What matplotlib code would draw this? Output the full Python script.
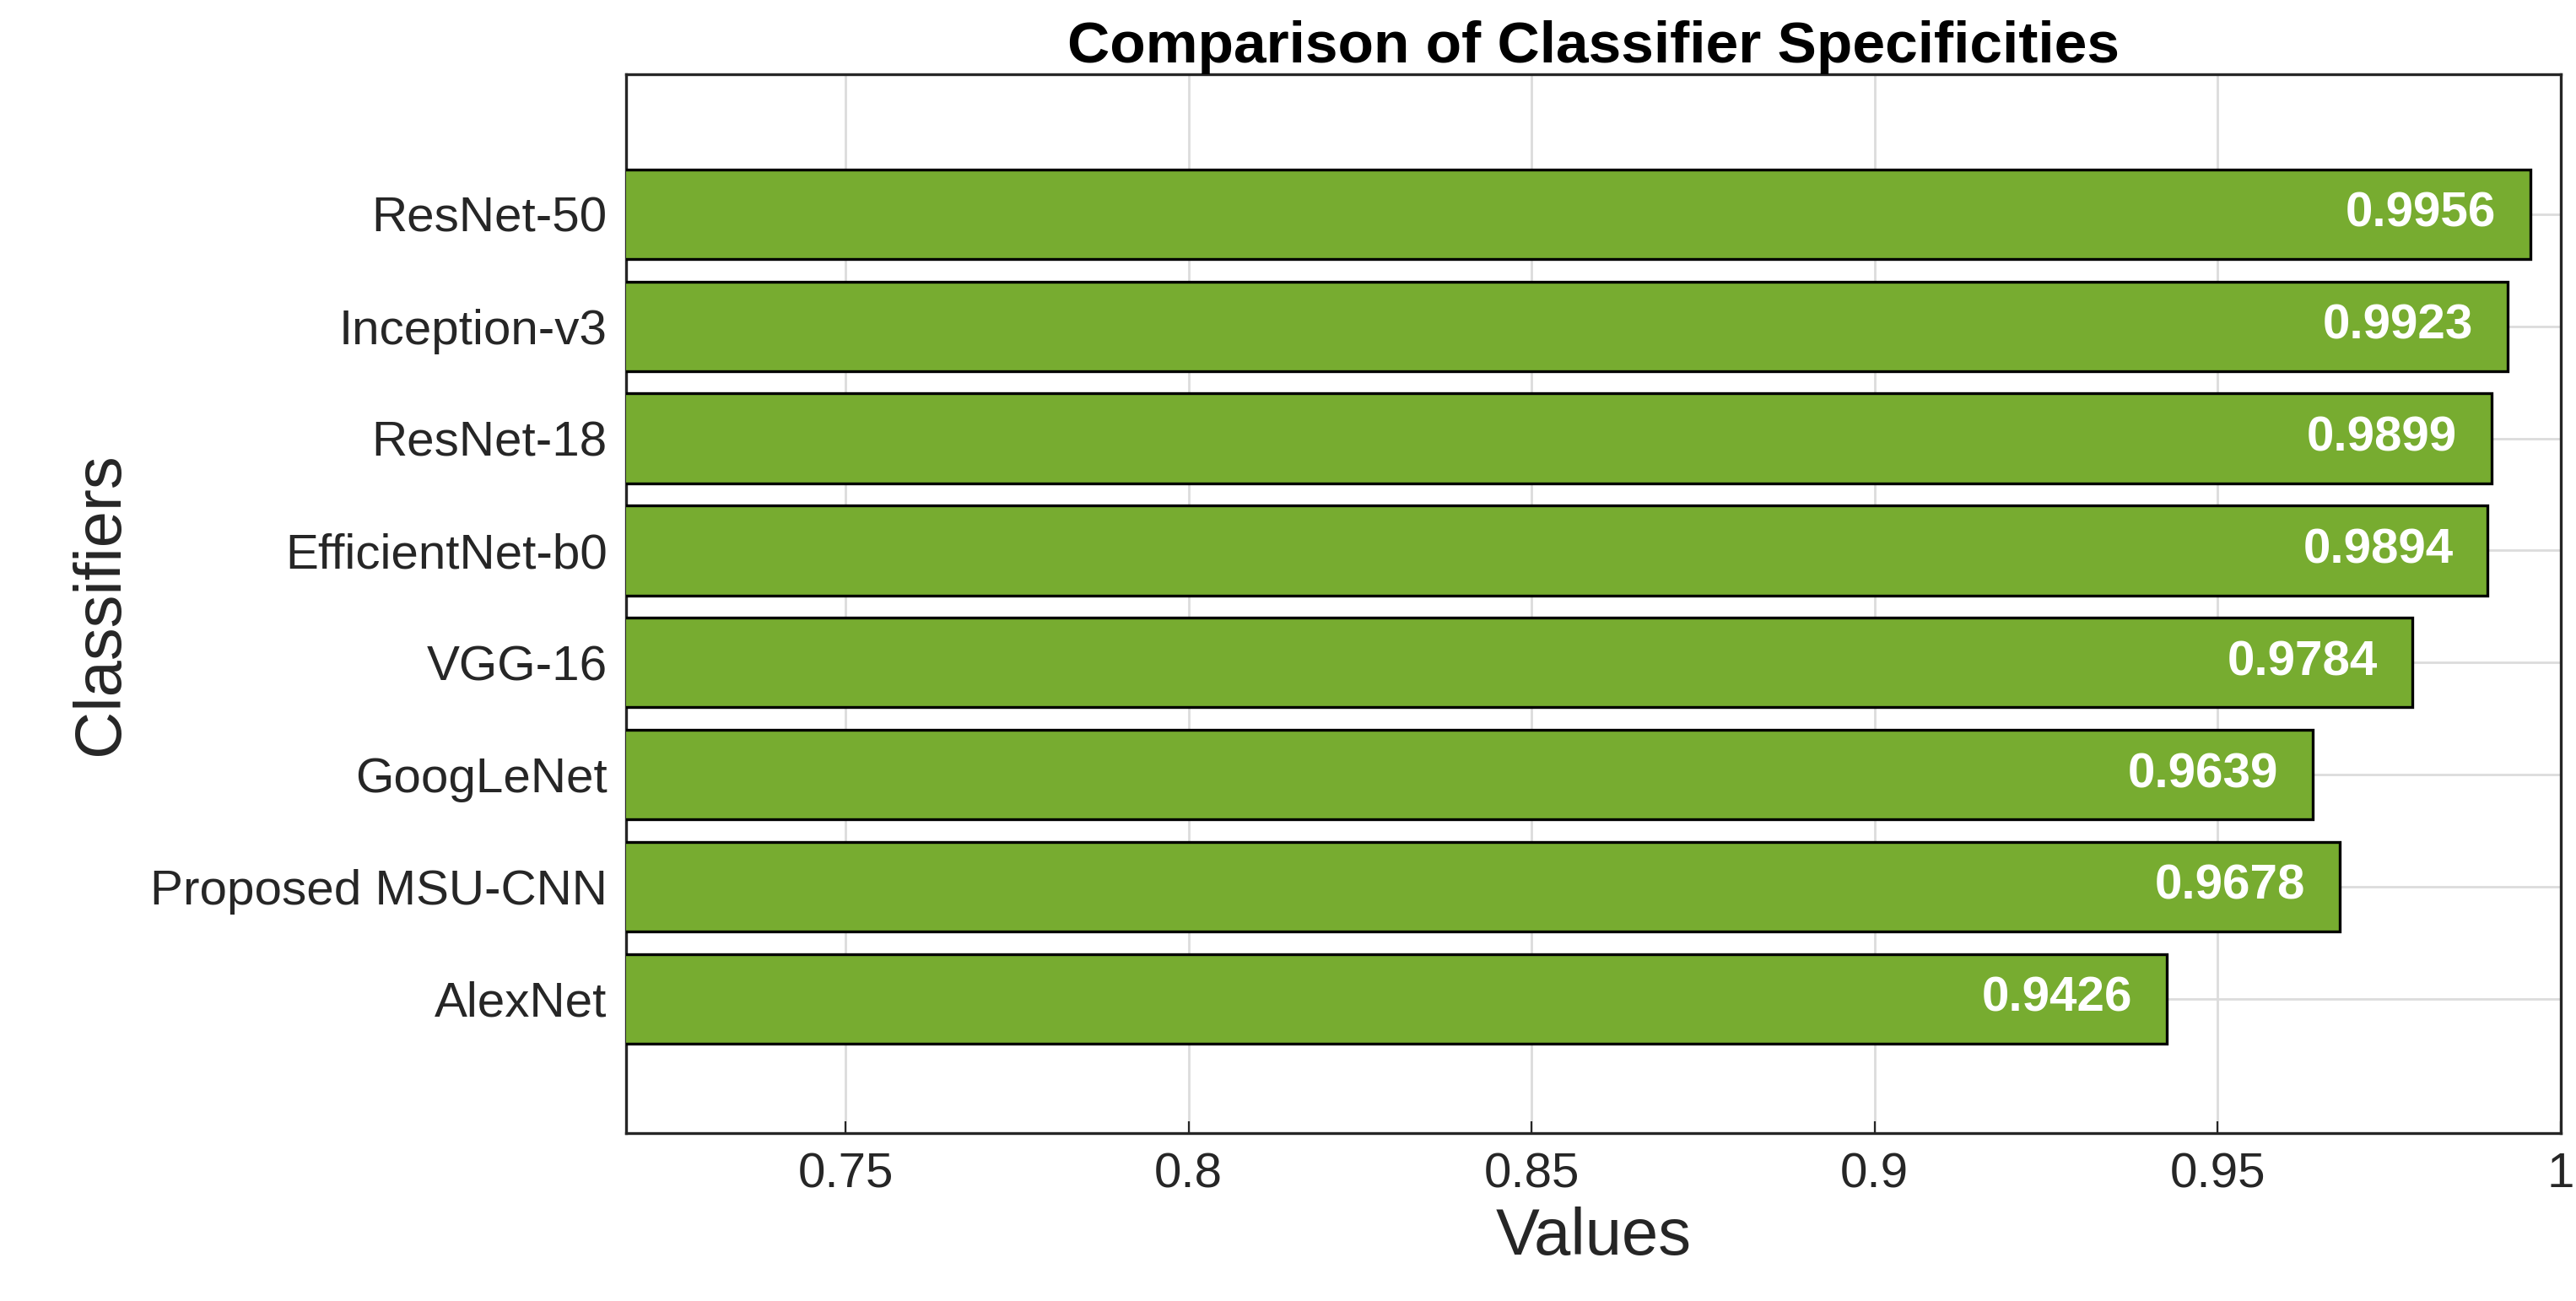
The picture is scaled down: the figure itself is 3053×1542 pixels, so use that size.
import matplotlib
matplotlib.use("Agg")
import matplotlib.pyplot as plt

classifiers = ["AlexNet", "Proposed MSU-CNN", "GoogLeNet", "VGG-16",
               "EfficientNet-b0", "ResNet-18", "Inception-v3", "ResNet-50"]
values = [0.9426, 0.9678, 0.9639, 0.9784, 0.9894, 0.9899, 0.9923, 0.9956]
xticks = [0.75, 0.8, 0.85, 0.9, 0.95, 1]
xticklabels = ["0.75", "0.8", "0.85", "0.9", "0.95", "1"]

plt.rcParams['font.family'] = ['Arial', 'Liberation Sans', 'DejaVu Sans']
fig = plt.figure(figsize=(15.265, 7.71), dpi=200)
ax = fig.add_axes([0.243, 0.129, 0.751, 0.814])
ypos = list(range(1, len(classifiers) + 1))
ax.barh(ypos, values, height=0.8, color='#77ac30', edgecolor='black', linewidth=1.2, zorder=3)
for y, v in zip(ypos, values):
    ax.text(v - 0.005, y, f"{v:.4f}", ha='right', va='center', color='white',
            fontsize=21, fontweight='bold', zorder=4)
ax.set_xlim(0.718, 1.0)
ax.set_ylim(-0.2, 9.25)
ax.set_yticks(ypos)
ax.set_yticklabels(classifiers, fontsize=21, color='#262626')
ax.set_xticks(xticks)
ax.set_xticklabels(xticklabels, fontsize=21, color='#262626')
ax.grid(True, color='#dcdcdc', linewidth=1, zorder=0)
ax.set_axisbelow(True)
ax.tick_params(direction='in', length=5, color='#262626', pad=8)
for s in ax.spines.values():
    s.set_color('#262626'); s.set_linewidth(1.2)
ax.set_xlabel("Values", fontsize=28, color='#262626', labelpad=4)
ax.set_ylabel("Classifiers", fontsize=28, color='#262626', labelpad=8)
ax.set_title("Comparison of Classifier Specificities", fontsize=25, fontweight='bold', pad=4)
fig.savefig("out.png", dpi=200)
